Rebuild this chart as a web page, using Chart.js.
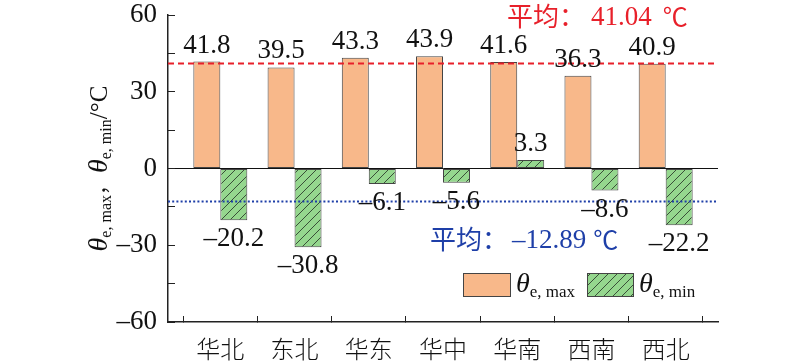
<!DOCTYPE html>
<html><head><meta charset="utf-8">
<script src="https://cdn.jsdelivr.net/npm/chart.js@4/dist/chart.umd.min.js"></script>
<style>html,body{margin:0;padding:0;background:#fff}#wrap{width:800px;height:361px}</style>
</head><body><div id="wrap"><canvas id="c" width="800" height="361"></canvas></div>
<script>
const categories = ['华北','东北','华东','华中','华南','西南','西北'];
const maxValues = [41.8, 39.5, 43.3, 43.9, 41.6, 36.3, 40.9];
const minValues = [-20.2, -30.8, -6.1, -5.6, 3.3, -8.6, -22.2];
const avgMax = 41.04;
const avgMin = -12.89;
const yLabelTicks = [-60, -30, 0, 30, 60];
const xRange = [-0.705, 6.705];

const ORANGE = '#F8B88A';
const GREEN = '#95D78E';
const RED = '#E8202A';
const BLUE = '#1E3FA8';
const SERIF = "'Liberation Serif', 'Times New Roman', serif";
const CJK = "'Noto Sans CJK SC'";

const canvas = document.getElementById('c');
const mainCtx = canvas.getContext('2d');
function makeHatch() {
  const s = 9;
  const c = document.createElement('canvas');
  c.width = s; c.height = s;
  const g = c.getContext('2d');
  g.fillStyle = GREEN; g.fillRect(0, 0, s, s);
  g.strokeStyle = '#2f3f2f'; g.lineWidth = 0.9;
  g.beginPath();
  g.moveTo(0, s); g.lineTo(s, 0);
  g.moveTo(-2, 2); g.lineTo(2, -2);
  g.moveTo(s - 2, s + 2); g.lineTo(s + 2, s - 2);
  g.stroke();
  return mainCtx.createPattern(c, 'repeat');
}
const hatch = makeHatch();

function fmt(v) { return (v < 0 ? '\u2013' : '') + Math.abs(v); }
function fmt1(v) { return (v < 0 ? '\u2013' : '') + Math.abs(v).toFixed(1); }
function fmt2(v) { return (v < 0 ? '\u2013' : '') + Math.abs(v).toFixed(2); }

// parts: [text, font, dy, gapAfter]
function drawRich(ctx, parts, x, y) {
  let cx = x;
  for (const [t, f, dy, gap] of parts) {
    ctx.font = f;
    ctx.fillText(t, cx, y + dy);
    cx += ctx.measureText(t).width + (gap || 0);
  }
  return cx;
}
function richWidth(ctx, parts) {
  let w = 0;
  for (const [t, f, dy, gap] of parts) { ctx.font = f; w += ctx.measureText(t).width + (gap || 0); }
  return w;
}

const THETA = "italic 28px " + SERIF;
const SUB = "17px " + SERIF;

const overlay = {
  id: 'overlay',
  afterDatasetsDraw(chart) {
    const ctx = chart.ctx;
    ctx.save();
    ctx.fillStyle = '#111';
    ctx.font = '27px ' + SERIF;
    ctx.textAlign = 'center';
    ctx.textBaseline = 'alphabetic';
    [0, 1].forEach(di => {
      const meta = chart.getDatasetMeta(di);
      const vals = di === 0 ? maxValues : minValues;
      meta.data.forEach((el, i) => {
        const v = vals[i];
        if (v >= 0) ctx.fillText(fmt1(v), el.x, el.y - 9);
        else ctx.fillText(fmt1(v), el.x, el.y + 26);
      });
    });
    ctx.textAlign = 'left';
    ctx.textBaseline = 'alphabetic';
    ctx.fillStyle = RED;
    drawRich(ctx, [['平均：', '26px ' + CJK, 1, 6], [fmt2(avgMax), '27px ' + SERIF, 0, 11],
                   ['℃', '25px ' + CJK, 1, 0]], 507, 25);
    ctx.fillStyle = BLUE;
    drawRich(ctx, [['平均：', '26px ' + CJK, 1, 4], [fmt2(avgMin), '27px ' + SERIF, 0, 7],
                   ['℃', '25px ' + CJK, 1, 0]], 430, 248);
    ctx.restore();
  },
  afterDraw(chart) {
    const ctx = chart.ctx;
    ctx.save();
    ctx.lineWidth = 1;
    ctx.strokeStyle = '#444';
    ctx.fillStyle = ORANGE;
    ctx.fillRect(463.5, 273.5, 47, 23);
    ctx.strokeRect(463.5, 273.5, 47, 23);
    ctx.fillStyle = hatch;
    ctx.fillRect(587.5, 273.5, 46, 23);
    ctx.strokeRect(587.5, 273.5, 46, 23);
    ctx.fillStyle = '#111';
    ctx.textAlign = 'left';
    ctx.textBaseline = 'alphabetic';
    drawRich(ctx, [['θ', THETA, 0], ['e, max', SUB, 5]], 516, 292);
    drawRich(ctx, [['θ', THETA, 0], ['e, min', SUB, 5]], 639, 292);
    const parts = [['θ', THETA, 0], ['e, max', '16px ' + SERIF, 4], ['，', '20px ' + CJK, 0, 2],
                   ['θ', THETA, 0], ['e, min', '16px ' + SERIF, 4], ['/°C', '25px ' + SERIF, 0]];
    const w = richWidth(ctx, parts);
    const ca = chart.chartArea;
    ctx.translate(107, (ca.top + ca.bottom) / 2);
    ctx.rotate(-Math.PI / 2);
    drawRich(ctx, parts, -w / 2, 0);
    ctx.restore();
  }
};

const toXY = arr => arr.map((v, i) => ({x: i, y: v}));

new Chart(canvas, {
  type: 'bar',
  data: {
    datasets: [
      {label: 'max', data: toXY(maxValues), backgroundColor: ORANGE, borderColor: '#444', borderWidth: 1,
       borderSkipped: false, categoryPercentage: 0.727, barPercentage: 1, order: 2},
      {label: 'min', data: toXY(minValues), backgroundColor: hatch, borderColor: '#444', borderWidth: 1,
       borderSkipped: false, categoryPercentage: 0.727, barPercentage: 1, order: 2},
      {type: 'line', label: 'avgMax', data: [{x: xRange[0], y: avgMax}, {x: xRange[1], y: avgMax}],
       borderColor: RED, borderWidth: 2, borderDash: [6, 4], pointRadius: 0, order: 0},
      {type: 'line', label: 'avgMin', data: [{x: xRange[0], y: avgMin}, {x: xRange[1], y: avgMin}],
       borderColor: BLUE, borderWidth: 2.2, borderDash: [2, 2.2], pointRadius: 0, order: 0}
    ]
  },
  options: {
    responsive: false,
    animation: false,
    devicePixelRatio: 1,
    layout: {padding: {top: 15, right: 82, bottom: 0, left: 0}},
    plugins: {legend: {display: false}, tooltip: {enabled: false}},
    scales: {
      x: {
        type: 'linear', min: xRange[0], max: xRange[1], offset: false,
        afterBuildTicks: s => { s.ticks = categories.map((_, i) => ({value: i})); },
        afterFit: s => { s.height = 39; s.paddingLeft = 0; s.paddingRight = 0; },
        ticks: {autoSkip: false, maxRotation: 0, padding: 21, color: '#111',
                font: {family: CJK, size: 24, weight: '300', lineHeight: 1},
                callback: v => categories[v] ?? ''},
        grid: {drawOnChartArea: false, drawTicks: true, tickLength: -6, tickColor: '#222', tickWidth: 1},
        border: {display: true, color: '#222', width: 1.5}
      },
      y: {
        min: -60, max: 60,
        afterFit: s => { s.width = 168; s.paddingTop = 0; s.paddingBottom = 0; },
        ticks: {stepSize: 15, autoSkip: false, padding: 18, color: '#111',
                font: {family: SERIF, size: 27, lineHeight: 1},
                callback: v => yLabelTicks.includes(v) ? fmt(v) : ''},
        grid: {drawOnChartArea: true, drawTicks: true, tickLength: -7,
               color: c => (c.tick && c.tick.value === 0) ? '#111' : 'rgba(0,0,0,0)',
               tickColor: '#222', lineWidth: 1, tickWidth: 1},
        border: {display: true, color: '#222', width: 1.5}
      }
    }
  },
  plugins: [overlay]
});
</script>
</body></html>
